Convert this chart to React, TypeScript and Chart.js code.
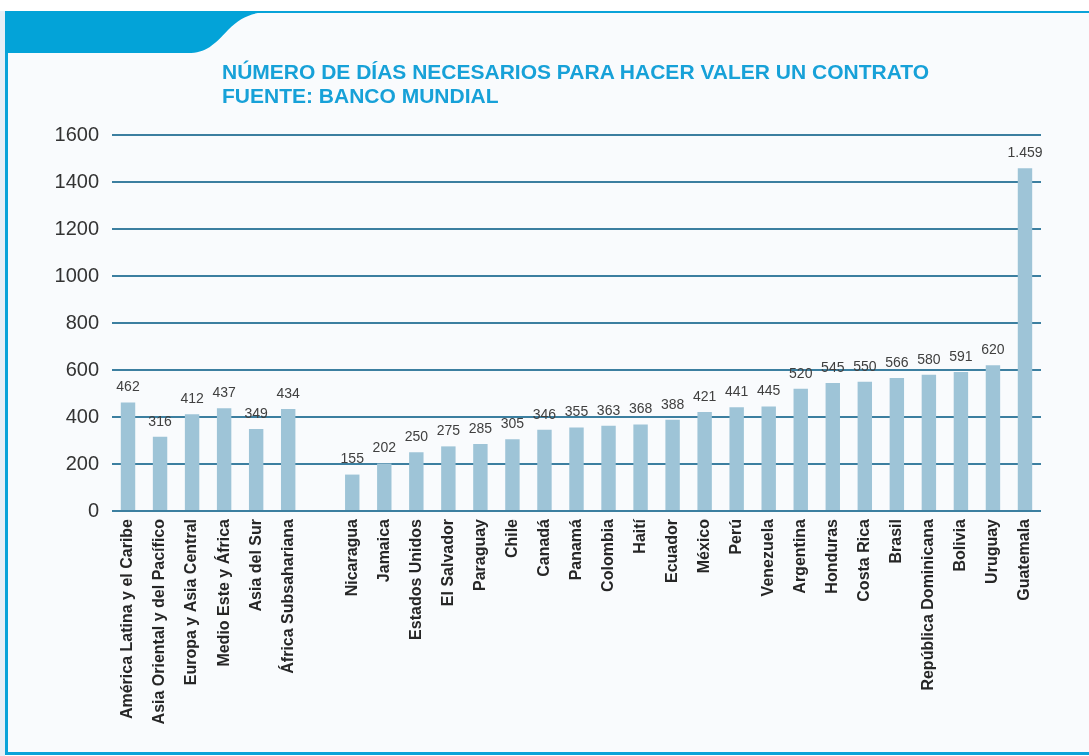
import React, { useEffect, useRef } from "react";
import { Chart, registerables } from "chart.js";

Chart.register(...registerables);

const categories: string[] = [
  "América Latina y el Caribe",
  "Asia Oriental y del Pacífico",
  "Europa y Asia Central",
  "Medio Este y África",
  "Asia del Sur",
  "África Subsahariana",
  "",
  "Nicaragua",
  "Jamaica",
  "Estados Unidos",
  "El Salvador",
  "Paraguay",
  "Chile",
  "Canadá",
  "Panamá",
  "Colombia",
  "Haití",
  "Ecuador",
  "México",
  "Perú",
  "Venezuela",
  "Argentina",
  "Honduras",
  "Costa Rica",
  "Brasil",
  "República Dominicana",
  "Bolivia",
  "Uruguay",
  "Guatemala",
];

const days: (number | null)[] = [
  462, 316, 412, 437, 349, 434, null, 155, 202, 250, 275, 285, 305, 346, 355,
  363, 368, 388, 421, 441, 445, 520, 545, 550, 566, 580, 591, 620, 1459,
];

const yTicks: number[] = [0, 200, 400, 600, 800, 1000, 1200, 1400, 1600];

const titleLines: string[] = [
  "NÚMERO DE DÍAS NECESARIOS PARA HACER VALER UN CONTRATO",
  "FUENTE: BANCO MUNDIAL",
];

const FONT = "'Liberation Sans', Arial, sans-serif";

function fmt(v: number): string {
  const s = String(Math.round(v));
  return s.replace(/\B(?=(\d{3})+(?!\d))/g, ".");
}

const valueLabels = {
  id: "valueLabels",
  afterDatasetsDraw(chart: any) {
    const ctx = chart.ctx;
    const meta = chart.getDatasetMeta(0);
    const data = chart.data.datasets[0].data;
    ctx.save();
    ctx.font = `14px ${FONT}`;
    ctx.fillStyle = "#404040";
    ctx.textAlign = "center";
    ctx.textBaseline = "bottom";
    meta.data.forEach((el: any, i: number) => {
      const v = data[i];
      if (v == null) return;
      ctx.fillText(fmt(v), el.x, el.y - 8);
    });
    ctx.restore();
  },
};

export default function App() {
  const ref = useRef<HTMLCanvasElement | null>(null);

  useEffect(() => {
    if (!ref.current) return;
    const chart = new Chart(ref.current, {
      type: "bar",
      data: {
        labels: categories,
        datasets: [
          {
            data: days,
            backgroundColor: "#9ec4d7",
            borderWidth: 0,
            barPercentage: 0.45,
            categoryPercentage: 1,
          },
        ],
      },
      options: {
        animation: false,
        responsive: false,
        devicePixelRatio: 1,
        layout: { padding: { left: 40, right: 48, top: 135, bottom: 0 } },
        plugins: {
          legend: { display: false },
          tooltip: { enabled: false },
          title: { display: false },
        },
        scales: {
          x: {
            offset: true,
            grid: { display: false, drawTicks: false },
            border: { display: false },
            ticks: {
              autoSkip: false,
              minRotation: 90,
              maxRotation: 90,
              padding: 8,
              color: "#262626",
              font: { family: FONT, size: 16, weight: "bold" },
            },
            afterFit(scale: any) {
              scale.height = 245;
            },
          },
          y: {
            min: 0,
            max: 1600,
            afterBuildTicks(scale: any) {
              scale.ticks = yTicks.map((v) => ({ value: v }));
            },
            grid: {
              color: "#3c7fa0",
              lineWidth: 2,
              drawTicks: false,
            },
            border: { display: false },
            ticks: {
              padding: 13,
              color: "#333333",
              font: { family: FONT, size: 20 },
              callback: (v: any) => String(v),
            },
            afterFit(scale: any) {
              scale.width = 72;
            },
          },
        },
      },
      plugins: [valueLabels],
    });
    return () => chart.destroy();
  }, []);

  return (
    <div
      style={{
        position: "absolute",
        left: 0,
        top: 0,
        width: 1089,
        height: 756,
        overflow: "hidden",
        background: "#ffffff",
      }}
    >
      <div
        style={{
          position: "absolute",
          left: 0,
          top: 11,
          width: 5,
          height: 745,
          background: "#e6eff6",
        }}
      />
      <div
        style={{
          position: "absolute",
          left: 5,
          top: 11,
          width: 1084,
          height: 744,
          background: "#f9fbfd",
          borderTop: "2px solid #0aa3d9",
          borderLeft: "3px solid #0aa3d9",
          borderBottom: "3px solid #0aa3d9",
          boxSizing: "border-box",
        }}
      />
      <svg
        width={1089}
        height={756}
        style={{ position: "absolute", left: 0, top: 0 }}
      >
        <path
          d="M5 11 H278 C 252 12, 242 16, 228 30 C 214 45, 206 53, 188 53 H5 Z"
          fill="#03a3d8"
        />
      </svg>
      <canvas
        ref={ref}
        width={1089}
        height={756}
        style={{ position: "absolute", left: 0, top: 0 }}
      />
      <div
        style={{
          position: "absolute",
          left: 222,
          top: 60,
          fontFamily: FONT,
          fontWeight: "bold",
          fontSize: 21,
          lineHeight: "24px",
          color: "#17a1d8",
          whiteSpace: "nowrap",
        }}
      >
        {titleLines.map((t, i) => (
          <div key={i}>{t}</div>
        ))}
      </div>
    </div>
  );
}
